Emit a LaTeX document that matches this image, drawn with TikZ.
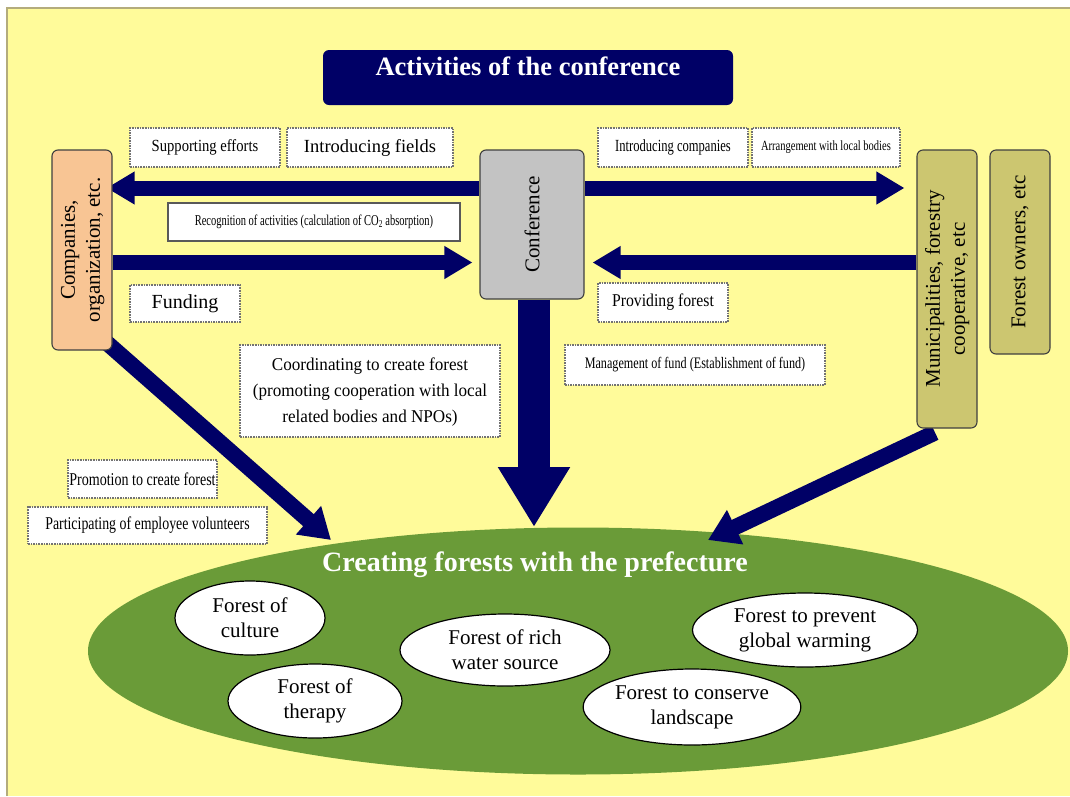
\documentclass[tikz,border=0pt]{standalone}
\usepackage{fontspec}
\setmainfont{Liberation Serif}
\usetikzlibrary{arrows.meta,shapes.geometric}
\definecolor{bgyellow}{HTML}{FFFB9A}
\definecolor{navy}{HTML}{000066}
\definecolor{orangebox}{HTML}{F8C594}
\definecolor{graybox}{HTML}{C3C3C3}
\definecolor{olivebox}{HTML}{CCC670}
\definecolor{woodgreen}{HTML}{6A9B38}
\definecolor{frameline}{HTML}{B4AC7C}
\newcommand\hsq[2]{\scalebox{#1}[1]{#2}}
\pgfdeclarelayer{bg}
\pgfdeclarelayer{arr}
\pgfsetlayers{bg,arr,main}
\begin{document}
\begin{tikzpicture}[x=1pt,y=-1pt,
  lbl/.style={draw=black!55, densely dotted, line width=1.6pt, fill=white, inner sep=0pt, align=center},
  recbox/.style={draw=black!65, line width=2pt, fill=white, inner sep=0pt, align=center},
  actor/.style={draw=black!75, line width=1.1pt, rounded corners=6pt, inner sep=0pt, align=center, font=\fontsize{21}{27}\selectfont},
  blob/.style={ellipse, draw=black, line width=1.2pt, fill=white, inner sep=0pt, align=center, font=\fontsize{21}{25}\selectfont},
  flatarrow/.style={navy, line width=15pt, -{Triangle[length=28pt,width=31pt]}},
  diagarrow/.style={navy, line width=16pt, -{Triangle[length=30pt,width=36pt]}},
  mainarrow/.style={navy, line width=32pt, -{Triangle[length=60pt,width=68pt]}},
]
\useasboundingbox (0,0) rectangle (1070,796);
\begin{pgfonlayer}{bg}
  \fill[white] (0,0) rectangle (1070,796);
  \fill[bgyellow] (7,8) rectangle (1070,796);
  \draw[frameline, line width=2pt] (7,796) -- (7,8) -- (1070,8);
  \node[ellipse, fill=woodgreen, minimum width=980pt, minimum height=247pt, inner sep=0pt] (wood) at (578,651) {};
\end{pgfonlayer}

% title
\node[fill=navy, rounded corners=6pt, minimum width=410pt, minimum height=55pt, inner sep=0pt] (title) at (528,77.5) {};
\node[text=white, font=\bfseries\fontsize{26.5}{30}\selectfont, inner sep=0pt] (titletext) at (528,66) {Activities of the conference};

% actors
\node[actor, fill=orangebox, minimum width=60pt, minimum height=200pt] (comp) at (82,250)
  {\rotatebox{90}{\begin{tabular}{@{}c@{}}Companies,\\[-2pt]organization, etc.\end{tabular}}};
\node[actor, fill=graybox, minimum width=104pt, minimum height=149pt] (conf) at (532,224.5)
  {\rotatebox{90}{Conference}};
\node[actor, fill=olivebox, minimum width=60pt, minimum height=278pt] (muni) at (947,289)
  {\rotatebox{90}{\begin{tabular}{@{}c@{}}Municipalities, forestry\\[-2pt]cooperative, etc\end{tabular}}};
\node[actor, fill=olivebox, minimum width=60pt, minimum height=204pt] (owners) at (1020,252)
  {\rotatebox{90}{Forest owners, etc}};

% labels
\node[lbl, minimum width=150pt, minimum height=39pt, font=\fontsize{17}{20}\selectfont] (sup) at (205,147.5) {\hsq{0.86}{Supporting efforts}};
\node[lbl, minimum width=166pt, minimum height=39pt, font=\fontsize{18.5}{22}\selectfont] (intf) at (370,147.5) {Introducing fields};
\node[lbl, minimum width=150pt, minimum height=39pt, font=\fontsize{17}{20}\selectfont] (intc) at (673,147.5) {\hsq{0.74}{Introducing companies}};
\node[lbl, minimum width=148pt, minimum height=39pt, font=\fontsize{14}{17}\selectfont] (arrg) at (826,147.5) {\hsq{0.75}{Arrangement with local bodies}};
\node[recbox, minimum width=292pt, minimum height=38pt, font=\fontsize{15}{18}\selectfont] (rec) at (314,222) {\hsq{0.7}{Recognition of activities (calculation of CO\textsubscript{2} absorption)}};
\node[lbl, minimum width=110pt, minimum height=37pt, font=\fontsize{20}{24}\selectfont] (fund) at (185,303.5) {Funding};
\node[lbl, minimum width=130pt, minimum height=39pt, font=\fontsize{18}{22}\selectfont] (prov) at (663,302.5) {\hsq{0.875}{Providing forest}};
\node[lbl, minimum width=260pt, minimum height=40pt, font=\fontsize{16}{20}\selectfont] (mgmt) at (695,365) {\hsq{0.76}{Management of fund (Establishment of fund)}};
\node[lbl, minimum width=260pt, minimum height=92pt, font=\fontsize{18}{26}\selectfont] (coord) at (370,391)
  {\hsq{0.95}{\begin{tabular}{@{}c@{}}Coordinating to create forest\\(promoting cooperation with local\\related bodies and NPOs)\end{tabular}}};
\node[lbl, minimum width=149pt, minimum height=38pt, font=\fontsize{18}{22}\selectfont] (prom) at (142.5,479) {\hsq{0.78}{Promotion to create forest}};
\node[lbl, minimum width=239pt, minimum height=37pt, font=\fontsize{18}{22}\selectfont] (part) at (147.5,525.5) {\hsq{0.77}{Participating of employee volunteers}};

% forest
\node[text=white, font=\bfseries\fontsize{28}{32}\selectfont, inner sep=0pt] (woodtitle) at (535,565) {Creating forests with the prefecture};
\node[blob, minimum width=150pt, minimum height=74pt] (culture) at (250,618) {Forest of\\culture};
\node[blob, minimum width=210pt, minimum height=72pt] (water) at (505,650) {Forest of rich\\water source};
\node[blob, minimum width=225pt, minimum height=74pt] (warm) at (805,630) {Forest to prevent\\global warming};
\node[blob, minimum width=174pt, minimum height=74pt] (therapy) at (315,701) {Forest of\\therapy};
\node[blob, minimum width=215pt, minimum height=76pt] (land) at (692,707) {Forest to conserve\\landscape};

% arrows
\coordinate (yTop) at (0,188);
\coordinate (yLow) at (0,262.5);
\coordinate (tipL) at (331,540);
\coordinate (tipR) at (708,540);
\coordinate (tipM) at (534,527);
\begin{pgfonlayer}{arr}
  \draw[flatarrow] (conf.west |- yTop) -- ([xshift=-6pt]comp.east |- yTop);
  \draw[flatarrow] (comp.east |- yLow) -- ([xshift=-7pt]conf.west |- yLow);
  \draw[flatarrow] (conf.east |- yTop) -- ([xshift=-12pt]muni.west |- yTop);
  \draw[flatarrow] (muni.west |- yLow) -- ([xshift=8pt]conf.east |- yLow);
  \draw[mainarrow] (conf.south -| tipM) -- (tipM);
  \draw[diagarrow] ([xshift=-6pt,yshift=8pt]comp.south east) -- (tipL);
  \draw[diagarrow] ([xshift=-12pt,yshift=-4pt]muni.south) -- (tipR);
\end{pgfonlayer}
\end{tikzpicture}
\end{document}
